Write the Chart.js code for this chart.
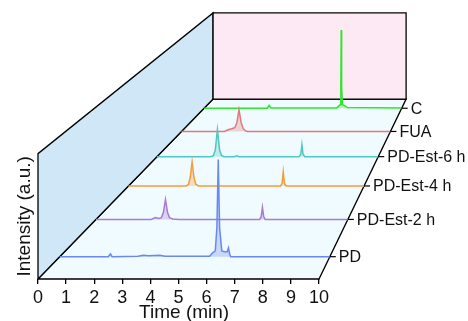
<!DOCTYPE html>
<html>
<head>
<meta charset="utf-8">
<script src="https://cdn.jsdelivr.net/npm/chart.js@4.4.0/dist/chart.umd.min.js"></script>
<style>
html, body { margin: 0; padding: 0; background: #fff; }
</style>
</head>
<body>
<canvas id="chart" width="468" height="321"></canvas>
<script>
// series, front to back
const seriesNames = ['PD', 'PD-Est-2 h', 'PD-Est-4 h', 'PD-Est-6 h', 'FUA', 'C'];
const seriesDepth = [0.124, 0.331, 0.517, 0.680, 0.820, 0.949];
const seriesColors = ['#6a88f2', '#a77bd6', '#f39c3c', '#4fc7c4', '#e07a78', '#2ee62e'];
const timeTicks = [0, 1, 2, 3, 4, 5, 6, 7, 8, 9, 10];

// [time (min), intensity (a.u.)]
const tracePD = [[0, 0], [1.8, 0], [1.88, 3], [1.94, 0], [2.9, 0.5], [3.1, 1.5], [3.3, 1], [3.7, 1.5], [3.9, 0.5],
    [5.55, 0.5], [5.66, 4], [5.76, 6], [5.82, 30], [5.87, 100], [5.92, 30], [6.0, 6], [6.1, 5], [6.2, 5],
    [6.25, 9], [6.29, 3], [6.33, 0], [10, 0]];
const trace2h = [[0, 0], [2.2, 0], [2.35, 2], [2.5, 1], [2.6, 2], [2.68, 8], [2.76, 22], [2.84, 8], [2.92, 2],
    [3.05, 0.5], [3.3, 0], [6.5, 0], [6.56, 3], [6.61, 13.4], [6.66, 3], [6.72, 0], [10, 0]];
const trace4h = [[0, 0], [2.45, 0], [2.55, 2], [2.62, 10], [2.70, 28.6], [2.78, 10], [2.86, 2], [2.98, 0],
    [6.45, 0], [6.52, 3], [6.57, 16.7], [6.62, 3], [6.69, 0], [10, 0]];
const trace6h = [[0, 0], [2.45, 0], [2.55, 1.5], [2.63, 8], [2.73, 34], [2.83, 8], [2.92, 1.5], [3.02, 0],
    [3.5, 0], [3.6, 1], [3.7, 0], [6.42, 0], [6.5, 3], [6.55, 15], [6.6, 3], [6.68, 0], [10, 0]];
const traceFUA = [[0, 0], [2.05, 0], [2.2, 2], [2.4, 3.5], [2.55, 5], [2.65, 12], [2.75, 29], [2.85, 12],
    [2.95, 4], [3.05, 1], [3.15, 0], [10, 0]];
const traceC = [[0, 0], [3.2, 0], [3.29, 4], [3.38, 0.5], [6.7, 0.5], [6.77, 2], [6.88, 5], [6.92, 30],
    [6.94, 110], [6.96, 30], [7.0, 5], [7.15, 3], [7.25, 1], [10, 0.5]];
const traces = [tracePD, trace2h, trace4h, trace6h, traceFUA, traceC];

// box: wall height and how the back plane is shifted / shrunk
const WALL = 124;
const SHIFT_X = 6.23;
const SHIFT_Y = 178;
const SHRINK = 0.313;
const X_MAX = 15;   // room to the right for the receding box

function project(t, d, v) {
    const s = 1 - SHRINK * d;
    return { x: SHIFT_X * d + t * s, y: SHIFT_Y * d + v * s };
}

const FONT = '"Liberation Sans", Arial, sans-serif';

const boxLine = { borderColor: '#000', borderWidth: 1.3, pointRadius: 0, showLine: true, clip: false, fill: 'shape' };

const floor = [[0, 0, 0], [10, 0, 0], [10, 1, 0], [0, 1, 0], [0, 0, 0]];
const leftWall = [[0, 0, 0], [0, 0, WALL], [0, 1, WALL], [0, 1, 0], [0, 0, 0]];
const backWall = [[0, 1, 0], [0, 1, WALL], [10, 1, WALL], [10, 1, 0], [0, 1, 0]];

const datasets = [
    Object.assign({ data: floor.map(p => project(...p)), backgroundColor: '#effbfe', order: 12 }, boxLine),
    Object.assign({ data: leftWall.map(p => project(...p)), backgroundColor: '#cfe7f6', order: 11 }, boxLine),
    Object.assign({ data: backWall.map(p => project(...p)), backgroundColor: '#fde9f3', order: 10 }, boxLine)
];

traces.forEach((tr, i) => {
    const d = seriesDepth[i];
    datasets.push({
        label: seriesNames[i],
        data: tr.map(([t, v]) => project(t, d, v)),
        borderColor: seriesColors[i],
        backgroundColor: seriesColors[i] + '4d',
        borderWidth: 1.5,
        pointRadius: 0,
        showLine: true,
        tension: 0,
        clip: false,
        fill: { value: project(0, d, 0).y },
        order: i + 1
    });
});

const sideText = {
    id: 'sideText',
    afterDatasetsDraw(chart) {
        const { ctx, scales: { x, y } } = chart;
        ctx.save();
        ctx.strokeStyle = '#000';
        ctx.lineWidth = 1.2;
        ctx.fillStyle = '#111';
        ctx.font = '16px ' + FONT;
        ctx.textBaseline = 'middle';
        seriesNames.forEach((name, i) => {
            const p = project(10, seriesDepth[i], 0);
            const px = x.getPixelForValue(p.x);
            const py = y.getPixelForValue(p.y);
            ctx.beginPath();
            ctx.moveTo(px, py);
            ctx.lineTo(px + 6, py);
            ctx.stroke();
            ctx.fillText(name, px + 9, py + 1);
        });

        // x title under the front edge
        ctx.textAlign = 'center';
        ctx.font = '19px ' + FONT;
        ctx.fillText('Time (min)', x.getPixelForValue(5.2), 312.5);

        // y title beside the front wall
        const top = y.getPixelForValue(project(0, 0, WALL).y);
        const bottom = y.getPixelForValue(0);
        ctx.translate(x.left - 13, (top + bottom) / 2);
        ctx.rotate(-Math.PI / 2);
        ctx.font = '19px ' + FONT;
        ctx.fillText('Intensity (a.u.)', 0, 0);
        ctx.restore();
    }
};

new Chart(document.getElementById('chart'), {
    type: 'scatter',
    data: { datasets },
    options: {
        responsive: false,
        animation: false,
        devicePixelRatio: 1,
        layout: { padding: { left: 38, right: 8.5, top: 0, bottom: 9 } },
        plugins: { legend: { display: false }, tooltip: { enabled: false } },
        scales: {
            x: {
                type: 'linear',
                min: 0,
                max: X_MAX,
                afterBuildTicks: axis => { axis.ticks = timeTicks.map(v => ({ value: v })); },
                border: { display: false },
                grid: { drawOnChartArea: false, drawTicks: true, tickLength: 5, color: '#000', lineWidth: 1.3 },
                ticks: { color: '#111', padding: 5, font: { family: FONT, size: 18, lineHeight: 1 } }
            },
            y: {
                type: 'linear',
                display: false,
                min: 0,
                max: 276
            }
        }
    },
    plugins: [sideText]
});
</script>
</body>
</html>
